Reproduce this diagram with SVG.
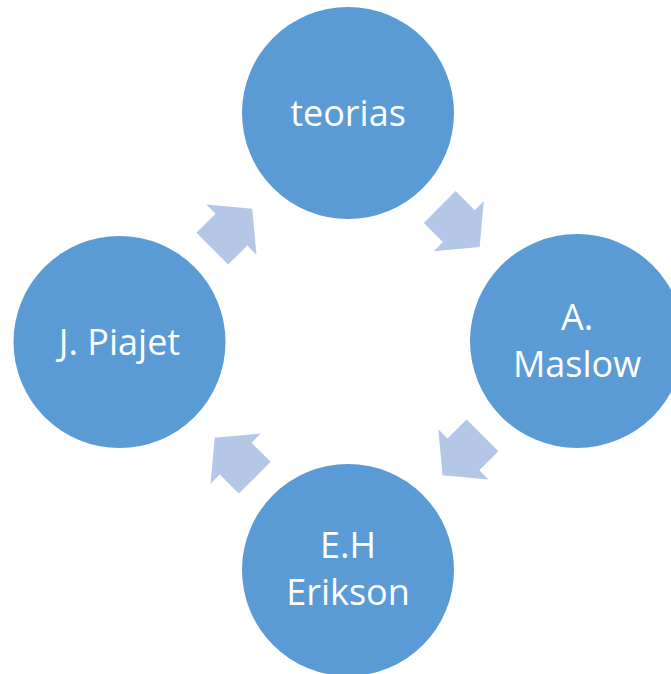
<svg xmlns="http://www.w3.org/2000/svg" width="671" height="674" viewBox="0 0 671 674">
<defs>
<style>
.node{fill:#5B9BD5}
.lbl{fill:#FFFFFF;font-family:"Open Sans","Noto Sans","Liberation Sans",sans-serif;font-size:36px;text-anchor:middle}
.arr{fill:#B4C7E7}
</style>
<path id="arrow" d="M0,-22.5 L27,-22.5 L27,-35.5 L56.5,0 L27,35.5 L27,22.5 L0,22.5 Z"/>
</defs>
<rect width="671" height="674" fill="#FFFFFF"/>
<g id="connectors" class="arr">
<use href="#arrow" transform="translate(212.3,248.7) rotate(-45)"/>
<use href="#arrow" transform="translate(439.7,207) rotate(45)"/>
<use href="#arrow" transform="translate(482.5,435.3) rotate(135)"/>
<use href="#arrow" transform="translate(254.7,477.7) rotate(-135)"/>
</g>
<g id="node-teorias">
<circle class="node" cx="348" cy="113" r="106"/>
<text class="lbl" x="348" y="126">teorias</text>
</g>
<g id="node-maslow">
<circle class="node" cx="577" cy="341" r="107"/>
<text class="lbl" x="577" y="330">A.</text>
<text class="lbl" x="577" y="377">Maslow</text>
</g>
<g id="node-erikson">
<circle class="node" cx="348" cy="570" r="106"/>
<text class="lbl" x="348" y="558">E.H</text>
<text class="lbl" x="348" y="605">Erikson</text>
</g>
<g id="node-piajet">
<circle class="node" cx="119.5" cy="342" r="106"/>
<text class="lbl" x="119.5" y="355">J. Piajet</text>
</g>
</svg>
